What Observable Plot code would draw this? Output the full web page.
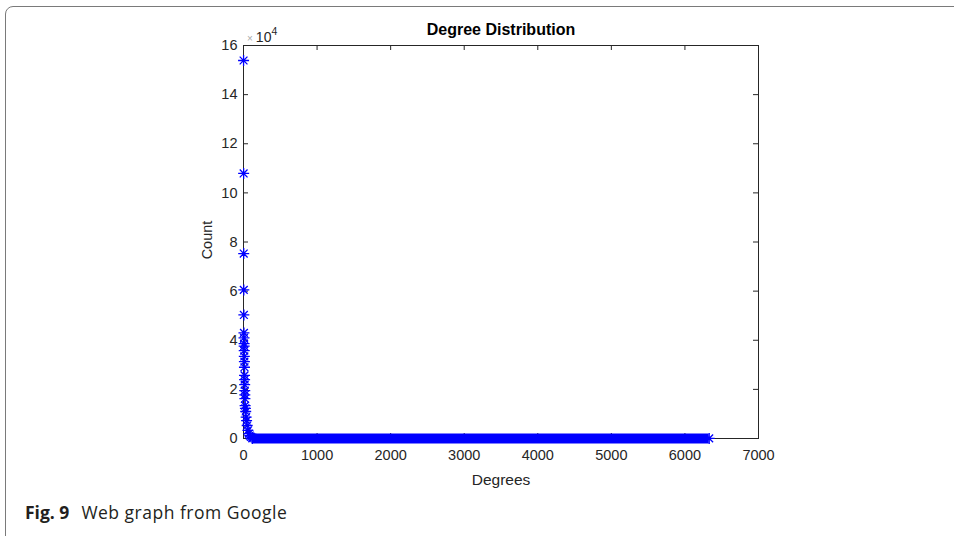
<!DOCTYPE html>
<html><head><meta charset="utf-8">
<script src="https://cdn.jsdelivr.net/npm/d3@7"></script>
<script src="https://cdn.jsdelivr.net/npm/@observablehq/plot@0.6"></script>
<style>
body{margin:0;background:#fff;}
#wrap{position:relative;width:954px;height:536px;overflow:hidden;font-family:"Liberation Sans",Arial,sans-serif;background:#fff;}
#border{position:absolute;left:5px;top:6px;width:980px;height:580px;border:1px solid #7a7a7a;border-radius:8px;pointer-events:none;}
#chart{position:absolute;left:0;top:0;}
#exp{position:absolute;left:247px;top:27px;font-size:14px;color:#262626;white-space:nowrap;line-height:1;}
#exp .x{color:#aaa;font-size:10px;margin-right:3px;}
#exp sup{font-size:10.5px;position:relative;top:-1px;}
#count{position:absolute;left:207px;top:240px;transform:translate(-50%,-50%) rotate(-90deg);font-size:14.5px;color:#262626;white-space:nowrap;}
#caption{position:absolute;left:25px;top:500px;font-family:"Open Sans",sans-serif;font-size:17.5px;color:#231f20;white-space:nowrap;}
#caption b{font-weight:700;margin-right:12px;}
#caption span{letter-spacing:0.5px;}
</style></head>
<body><div id="wrap">
<div id="chart"></div>
<div id="exp"><span class="x">×</span>10<sup>4</sup></div>
<div id="count">Count</div>
<div id="caption"><b>Fig. 9</b><span>Web graph from Google</span></div>
<div id="border"></div>
</div>
<script>
const title = "Degree Distribution";
const xLabel = "Degrees";
const xTicks = [0, 1000, 2000, 3000, 4000, 5000, 6000, 7000];
const yTicks = [0, 2, 4, 6, 8, 10, 12, 14, 16];
// head of the distribution: degree and node count
const degrees = [1,2,3,4,5,6,7,8,9,10,11,12,13,14,15,16,17,18,19,22,26,30,36,42,50,60,72,85,100,120];
const counts = [153900,107900,75300,60500,50300,43000,41000,38600,37600,35800,33400,31300,29000,25700,24000,21900,19500,17800,16200,13400,12300,11000,8700,7300,5300,3300,2000,1200,700,400];
// long tail of degrees with tiny counts (drawn as a dense run of markers)
const tailFrom = [120];
const tailTo = [6330];
const tailCount = [30];

const points = degrees.map((d, i) => ({degree: d, count: counts[i]}));
const tail = tailFrom.map((f, i) => ({from: f, to: tailTo[i], count: tailCount[i]}));
const tailEnds = tail.flatMap(t => [{degree: t.from, count: t.count}, {degree: t.to, count: t.count}]);

const asterisk = {
  draw(ctx, size) {
    const r = Math.sqrt(size / Math.PI);
    const d = r * Math.SQRT1_2;
    ctx.moveTo(-r, 0); ctx.lineTo(r, 0);
    ctx.moveTo(0, -r); ctx.lineTo(0, r);
    ctx.moveTo(-d, -d); ctx.lineTo(d, d);
    ctx.moveTo(-d, d); ctx.lineTo(d, -d);
  }
};

const blue = "#0000ff";
const ink = "#262626";
const W = 954, H = 490, mL = 243, mR = 196, mT = 45, mB = 52;
const pw = W - mL - mR, ph = H - mT - mB;

const chart = Plot.plot({
  width: W, height: H,
  marginLeft: mL, marginRight: mR, marginTop: mT, marginBottom: mB,
  style: {fontFamily: "'Liberation Sans', Arial, sans-serif", fontSize: "14.5px", color: ink, background: "transparent"},
  x: {domain: [0, 7000]},
  y: {domain: [0, 16]},
  marks: [
    Plot.frame({stroke: ink, strokeWidth: 1}),
    Plot.tickY(yTicks, {y: d => d, stroke: ink, insetRight: pw - 5}),
    Plot.tickY(yTicks, {y: d => d, stroke: ink, insetLeft: pw - 5}),
    Plot.tickX(xTicks, {x: d => d, stroke: ink, insetTop: ph - 5}),
    Plot.tickX(xTicks, {x: d => d, stroke: ink, insetBottom: ph - 5}),
    Plot.axisY({ticks: yTicks, tickSize: 0, tickPadding: 6, label: null, tickFormat: d => String(d)}),
    Plot.axisX({ticks: xTicks, tickSize: 0, tickPadding: 11, label: null, tickFormat: d => String(d)}),
    Plot.text([xLabel], {text: d => d, frameAnchor: "bottom", dy: 46, fontSize: 15.5, fill: ink}),
    Plot.text([title], {text: d => d, frameAnchor: "top", dy: -22, fontSize: 16, fontWeight: "bold", fill: "#000"}),
    Plot.ruleY(tail, {x1: "from", x2: "to", y: d => d.count / 1e4, stroke: blue, strokeWidth: 10}),
    Plot.dot(tailEnds, {x: "degree", y: d => d.count / 1e4, symbol: asterisk, r: 5.5, fill: "none", stroke: blue, strokeWidth: 1.3}),
    Plot.dot(points, {x: "degree", y: d => d.count / 1e4, symbol: asterisk, r: 5.5, fill: "none", stroke: blue, strokeWidth: 1.3})
  ]
});
document.getElementById("chart").appendChild(chart);
</script>
</body></html>
